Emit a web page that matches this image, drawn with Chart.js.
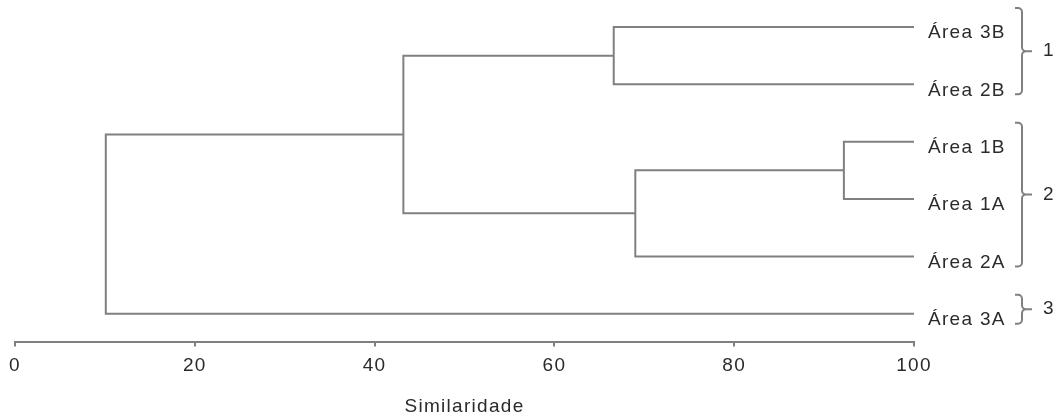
<!DOCTYPE html>
<html>
<head>
<meta charset="utf-8">
<title>Dendrograma - Similaridade</title>
<script src="https://cdn.jsdelivr.net/npm/chart.js@4/dist/chart.umd.min.js"></script>
<style>
  html, body { margin: 0; padding: 0; background: #fff; }
  #wrap { width: 1056px; height: 419px; position: relative; }
</style>
</head>
<body>
<div id="wrap"><canvas id="dendro"></canvas></div>
<script>
// folhas, de cima para baixo
const leafLabels = ["Área 3B", "Área 2B", "Área 1B", "Área 1A", "Área 2A", "Área 3A"];
// fusões: [filho A, filho B, similaridade]; índices >= 6 são nós já formados (6 + ordem)
const mergeLeft = [2, 0, 6, 7, 9];
const mergeRight = [3, 1, 4, 8, 5];
const mergeHeight = [92.2, 66.6, 69.0, 43.2, 10.1];
// grupos à direita
const groupLabels = ["1", "2", "3"];
const groupFirst = [0, 2, 5];
const groupLast = [1, 4, 5];
const xTicks = [0, 20, 40, 60, 80, 100];
const axisTitle = "Similaridade";

const LINE = "#808080";
const TEXT = "#2b2b2b";
const FONT = "'Liberation Sans', Arial, sans-serif";
const SPACING = "1.3px";

// posição (x,y) de cada nó: folhas em x=100
const nodeX = leafLabels.map(() => 100);
const nodeY = leafLabels.map((_, i) => i);
const datasets = [];
mergeHeight.forEach((h, k) => {
  const a = mergeLeft[k], b = mergeRight[k];
  datasets.push({
    data: [
      { x: nodeX[a], y: nodeY[a] },
      { x: h, y: nodeY[a] },
      { x: h, y: nodeY[b] },
      { x: nodeX[b], y: nodeY[b] },
    ],
    showLine: true,
    borderColor: LINE,
    borderWidth: 2,
    pointRadius: 0,
    tension: 0,
    clip: false,
  });
  nodeX.push(h);
  nodeY.push((nodeY[a] + nodeY[b]) / 2);
});

// rótulos das folhas e chaves dos grupos
const labelsPlugin = {
  id: "leafLabels",
  beforeUpdate(chart) {
    chart.ctx.letterSpacing = SPACING;
  },
  afterDraw(chart) {
    const { ctx, scales } = chart;
    const xs = scales.x, ys = scales.y;
    ctx.save();
    ctx.letterSpacing = SPACING;
    ctx.font = "19px " + FONT;
    ctx.fillStyle = TEXT;
    ctx.textBaseline = "middle";
    ctx.textAlign = "left";
    const lx = xs.getPixelForValue(100) + 14;
    leafLabels.forEach((t, i) => {
      ctx.fillText(t, lx, ys.getPixelForValue(i) + 6);
    });

    // chaves
    const bx = lx + 94;
    ctx.strokeStyle = LINE;
    ctx.lineWidth = 2;
    groupLabels.forEach((g, i) => {
      const top = ys.getPixelForValue(groupFirst[i]) - 19;
      const bot = ys.getPixelForValue(groupLast[i]) + 10;
      const mid = (top + bot) / 2;
      const r = 4;
      ctx.beginPath();
      ctx.moveTo(bx - 7, top);
      ctx.arcTo(bx, top, bx, top + r, r);
      ctx.lineTo(bx, mid - r);
      ctx.arcTo(bx, mid, bx + r, mid, r);
      ctx.lineTo(bx + 10, mid);
      ctx.moveTo(bx + r, mid);
      ctx.arcTo(bx, mid, bx, mid + r, r);
      ctx.lineTo(bx, bot - r);
      ctx.arcTo(bx, bot, bx - 7, bot, r);
      ctx.lineTo(bx - 7, bot);
      ctx.stroke();
      ctx.fillText(g, bx + 21, mid);
    });
    ctx.restore();
  },
};

new Chart(document.getElementById("dendro"), {
  type: "scatter",
  data: { datasets },
  options: {
    responsive: true,
    maintainAspectRatio: false,
    animation: false,
    layout: { padding: { left: 15, right: 142, top: 27, bottom: 1 } },
    plugins: { legend: { display: false }, tooltip: { enabled: false } },
    scales: {
      x: {
        type: "linear",
        min: 0,
        max: 100,
        afterBuildTicks(axis) {
          axis.ticks = xTicks.map((v) => ({ value: v }));
        },
        grid: { display: true, drawOnChartArea: false, tickLength: 4, color: LINE, lineWidth: 2 },
        border: { display: true, color: LINE, width: 2 },
        ticks: { color: TEXT, font: { size: 19, family: FONT }, padding: 8, maxRotation: 0 },
        title: {
          display: true,
          text: axisTitle,
          color: TEXT,
          font: { size: 19, family: FONT },
          padding: { top: 10, bottom: 0 },
        },
      },
      y: { type: "linear", reverse: true, min: 0, max: 5.5, display: false },
    },
  },
  plugins: [labelsPlugin],
});
</script>
</body>
</html>
